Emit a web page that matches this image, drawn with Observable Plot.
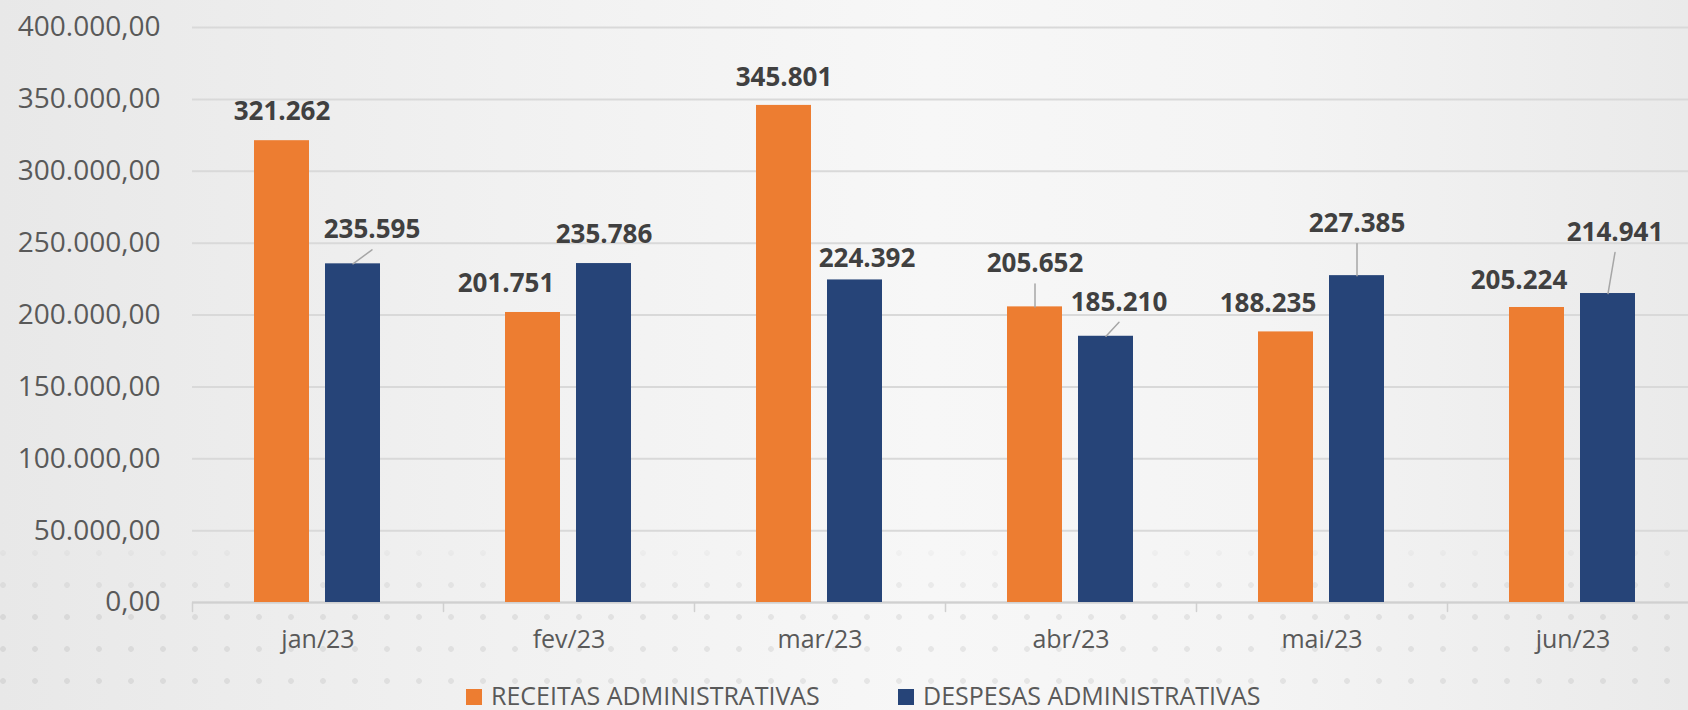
<!DOCTYPE html>
<html>
<head>
<meta charset="utf-8">
<script src="https://cdn.jsdelivr.net/npm/d3@7"></script>
<script src="https://cdn.jsdelivr.net/npm/@observablehq/plot@0.6"></script>
<style>
  html, body { margin: 0; padding: 0; }
  body {
    width: 1688px; height: 710px; overflow: hidden; position: relative;
    background: linear-gradient(90deg, #e8e8e8 0%, #f1f1f1 30%, #f7f7f7 55%, #f4f4f4 75%, #eaeaea 100%);
    font-family: "Open Sans", sans-serif;
  }
  .dots {
    position: absolute; left: 0; right: 0; top: 520px; height: 190px; z-index: 0;
    background-image: radial-gradient(circle, rgba(0,0,0,0.065) 2.5px, transparent 3.2px);
    background-size: 32px 32px;
    background-position: -13px -15px;
    -webkit-mask-image: linear-gradient(to bottom, transparent 0%, black 45%);
    mask-image: linear-gradient(to bottom, transparent 0%, black 45%);
  }
  #chart { position: relative; z-index: 1; height: 680px; }
  #legend { position: relative; z-index: 1; height: 30px; margin-top: 0px; }
  .item { position: absolute; top: 0; display: flex; align-items: center; height: 30px;
          font-size: 25px; color: #595959; line-height: 30px; white-space: nowrap; }
  .sw { width: 16px; height: 16px; margin-right: 9px; margin-top: 4px; }
</style>
</head>
<body>
<div class="dots"></div>
<div id="chart"></div>
<div id="legend"></div>
<script>
// ---- data ----
const months = ["jan/23", "fev/23", "mar/23", "abr/23", "mai/23", "jun/23"];
const seriesNames = ["RECEITAS ADMINISTRATIVAS", "DESPESAS ADMINISTRATIVAS"];
const receitas = [321262, 201751, 345801, 205652, 188235, 205224];
const despesas = [235595, 235786, 224392, 185210, 227385, 214941];
const yTicks = [0, 50000, 100000, 150000, 200000, 250000, 300000, 350000, 400000];
const colors = ["#ED7D31", "#264478"];

// ---- label placement styling (pixel offsets from bar top centre) ----
const labelDx = [[0, 19], [-27, 0], [0, 12], [0, 13], [-18, 0], [-18, 7]];
const labelDy = [[-29, -34], [-29, -29], [-28, -21], [-43, -34], [-28, -52], [-27, -61]];
const hasLeader = [[false, true], [false, false], [false, false], [true, true], [false, true], [false, true]];

const ptBR = d3.formatLocale({decimal: ",", thousands: ".", grouping: [3], currency: ["R$", ""]});
const yFmt = ptBR.format(",.2f");
const vFmt = ptBR.format(",.0f");

const values = [receitas, despesas];
const data = months.flatMap((m, i) => seriesNames.map((s, j) => ({
  month: m, series: s, value: values[j][i],
  dx: labelDx[i][j], dy: labelDy[i][j], leader: hasLeader[i][j]
})));

const labelMarks = data.map(d => Plot.text([d], {
  fx: "month", x: "series", y: "value", text: v => vFmt(v.value),
  dx: d.dx, dy: d.dy, fontSize: 26, fontWeight: 700, fill: "#404040"
}));

const leaderMarks = data.filter(d => d.leader).map(d => {
  const ex = d.dx, ey = d.dy + 20;
  return Plot.vector([d], {
    fx: "month", x: "series", y: "value",
    length: Math.hypot(ex, ey),
    rotate: Math.atan2(ex, -ey) * 180 / Math.PI,
    anchor: "start", r: 0, stroke: "#a6a6a6", strokeWidth: 1.5
  });
});

const chart = Plot.plot({
  width: 1688,
  height: 680,
  marginLeft: 190,
  marginRight: -12,
  marginTop: 27,
  marginBottom: 78,
  style: {background: "transparent", fontFamily: "'Open Sans', sans-serif", overflow: "visible"},
  fx: {domain: months, padding: 0, label: null},
  x: {domain: seriesNames, paddingInner: 0.222, paddingOuter: 0.858, axis: null},
  y: {domain: [0, 400000]},
  color: {domain: seriesNames, range: colors},
  marks: [
    Plot.gridY(yTicks, {stroke: "#d9d9d9", strokeOpacity: 1, strokeWidth: 2}),
    Plot.axisY(yTicks, {tickSize: 0, tickPadding: 32, tickFormat: yFmt, fontSize: 28, fill: "#595959", label: null}),
    Plot.axisFx({anchor: "bottom", tickSize: 0, tickPadding: 28, fontSize: 25, fill: "#595959", label: null}),
    Plot.ruleY([0], {stroke: "#d0d0d0", strokeWidth: 2}),
    Plot.vector(months, {fx: d => d, frameAnchor: "bottom-left", length: 9, rotate: 180, anchor: "start", r: 0, stroke: "#d0d0d0", strokeWidth: 1.5}),
    Plot.barY(data, {fx: "month", x: "series", y: "value", fill: "series"}),
    ...leaderMarks,
    ...labelMarks
  ]
});
document.getElementById("chart").appendChild(chart);

// ---- legend ----
const legend = document.getElementById("legend");
const legendLeft = [466, 898];
seriesNames.forEach((s, i) => {
  const it = document.createElement("div");
  it.className = "item";
  it.style.left = legendLeft[i] + "px";
  const sw = document.createElement("span");
  sw.className = "sw";
  sw.style.background = colors[i];
  const tx = document.createElement("span");
  tx.textContent = s;
  it.appendChild(sw);
  it.appendChild(tx);
  legend.appendChild(it);
});
</script>
</body>
</html>
